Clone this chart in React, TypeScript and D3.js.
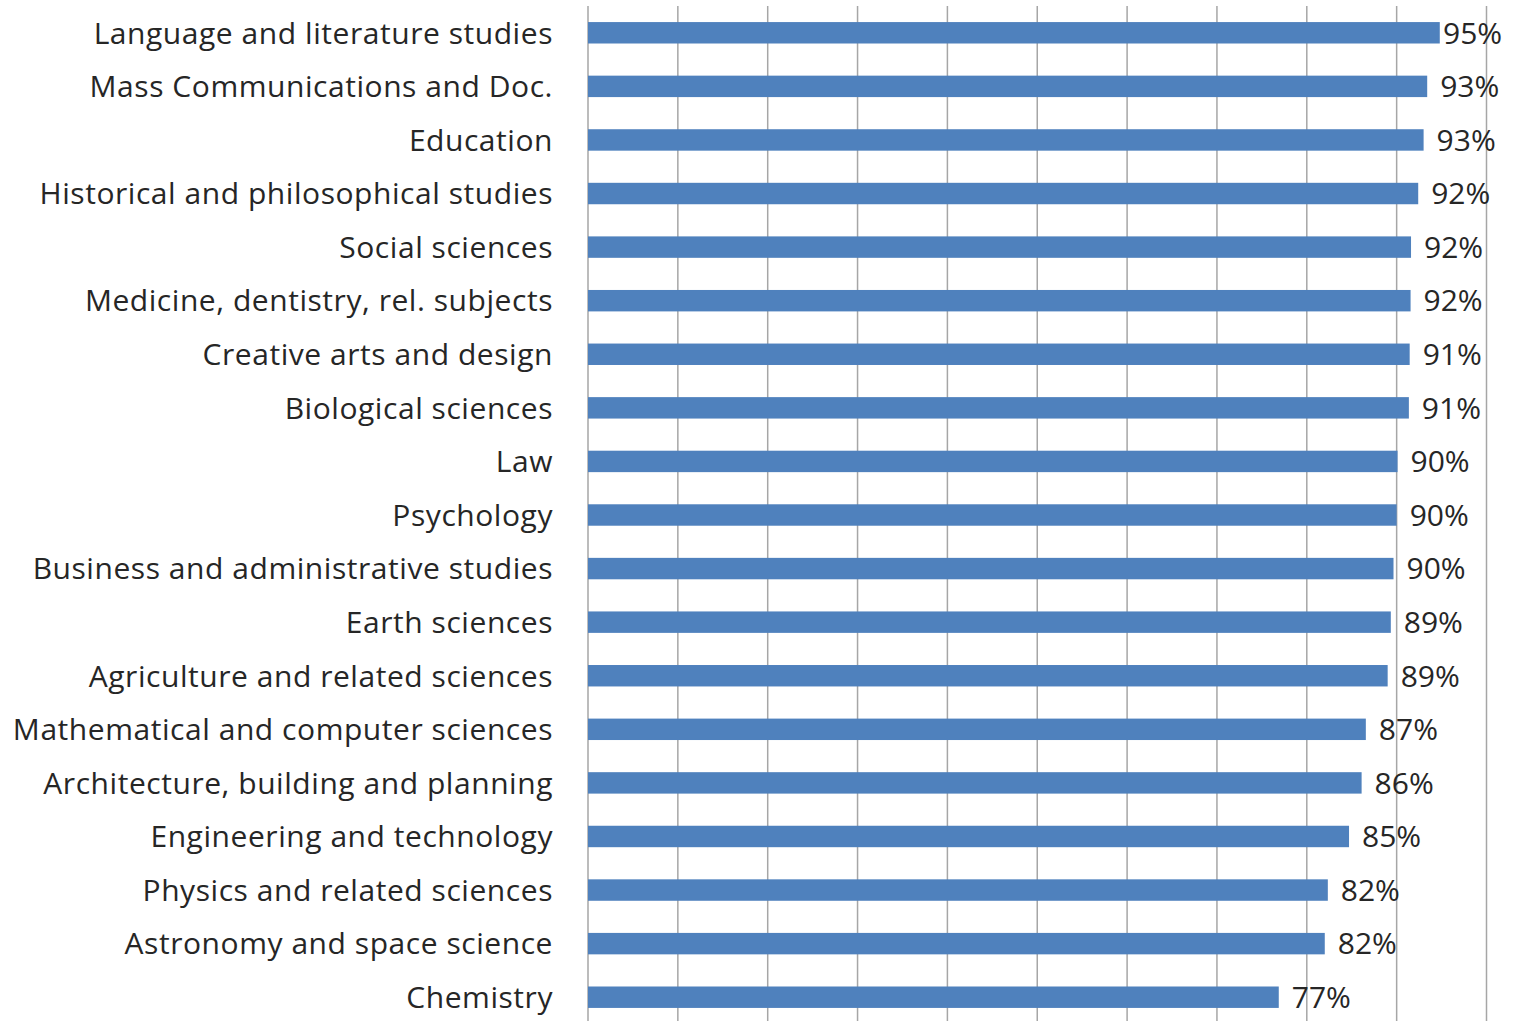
import { useEffect, useRef } from "react";
import { select, scaleBand, scaleLinear, format, range } from "d3";

const width = 1516;
const height = 1021;

const categories = [
  "Language and literature studies",
  "Mass Communications and Doc.",
  "Education",
  "Historical and philosophical studies",
  "Social sciences",
  "Medicine, dentistry, rel. subjects",
  "Creative arts and design",
  "Biological sciences",
  "Law",
  "Psychology",
  "Business and administrative studies",
  "Earth sciences",
  "Agriculture and related sciences",
  "Mathematical and computer sciences",
  "Architecture, building and planning",
  "Engineering and technology",
  "Physics and related sciences",
  "Astronomy and space science",
  "Chemistry",
];

const values = [
  0.948, 0.934, 0.93, 0.924, 0.916, 0.9155, 0.9145, 0.9136, 0.901, 0.9,
  0.8965, 0.8935, 0.89, 0.8657, 0.861, 0.847, 0.8234, 0.82, 0.7688,
];

const gridTicks = range(0, 1.01, 0.1);

const App = () => {
  const svgRef = useRef<SVGSVGElement>(null);

  useEffect(() => {
    const x = scaleLinear().domain([0, 1]).range([588, 1486.5]);
    const y = scaleBand().domain(categories).range([6, 1024]).paddingInner(0.6).paddingOuter(0.3);
    const pct = format(".0%");

    const svg = select(svgRef.current);
    svg.selectAll("*").remove();

    // vertical gridlines (incl. the axis line at 0)
    svg
      .append("g")
      .selectAll("line")
      .data(gridTicks)
      .join("line")
      .attr("x1", (d) => x(d))
      .attr("x2", (d) => x(d))
      .attr("y1", 6)
      .attr("y2", height)
      .attr("stroke", "#a6a6a6")
      .attr("stroke-width", 1.5);

    svg
      .append("g")
      .selectAll("rect")
      .data(values)
      .join("rect")
      .attr("x", x(0))
      .attr("y", (d, i) => y(categories[i]))
      .attr("width", (d) => x(d) - x(0))
      .attr("height", y.bandwidth())
      .attr("fill", "#4f81bd");

    svg
      .append("g")
      .attr("font-family", "'Open Sans', sans-serif")
      .attr("font-size", 30)
      .attr("letter-spacing", 0.55)
      .attr("fill", "#262626")
      .attr("text-anchor", "end")
      .selectAll("text")
      .data(categories)
      .join("text")
      .attr("x", 553)
      .attr("y", (d) => y(d) + y.bandwidth() / 2)
      .attr("dy", "0.36em")
      .text((d) => d);

    // value labels, kept inside the chart on the right
    svg
      .append("g")
      .attr("font-family", "'Open Sans', sans-serif")
      .attr("font-size", 30)
      .attr("fill", "#262626")
      .selectAll("text")
      .data(values)
      .join("text")
      .attr("x", (d) => Math.min(x(d) + 13, 1443))
      .attr("y", (d, i) => y(categories[i]) + y.bandwidth() / 2)
      .attr("dy", "0.36em")
      .text((d) => pct(d));
  }, []);

  return (
    <div style={{ position: "absolute", left: 0, top: 0 }}>
      <svg ref={svgRef} width={width} height={height} style={{ display: "block", background: "#fff" }} />
    </div>
  );
};

export default App;
